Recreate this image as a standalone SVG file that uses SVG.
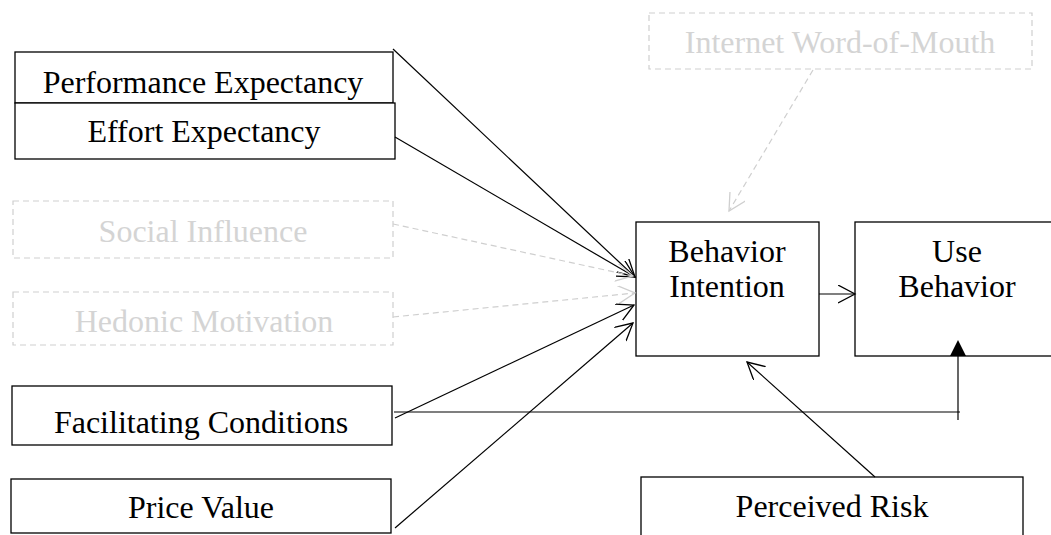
<svg xmlns="http://www.w3.org/2000/svg" width="1051" height="535" viewBox="0 0 1051 535">
  <style>
    .box { fill: #ffffff; stroke: #000000; stroke-width: 1.3; }
    .ghost { fill: #ffffff; stroke: #cfcfcf; stroke-width: 1.2; stroke-dasharray: 6 4; }
    .label { font-family: "Liberation Serif", "Times New Roman", serif; font-size: 32px; fill: #000000; text-anchor: middle; }
    .ghost-label { font-family: "Liberation Serif", "Times New Roman", serif; font-size: 32px; fill: #d4d4d4; text-anchor: middle; }
    .link { fill: none; stroke: #000000; stroke-width: 1.2; }
    .link-ghost { fill: none; stroke: #cfcfcf; stroke-width: 1.2; stroke-dasharray: 6 4; }
  </style>
  <defs>
    <marker id="open" markerUnits="userSpaceOnUse" markerWidth="22" markerHeight="22" refX="17" refY="9" orient="auto">
      <path d="M0,0 L17,9 L0,18" fill="none" stroke="#000000" stroke-width="1.3"/>
    </marker>
    <marker id="open-ghost" markerUnits="userSpaceOnUse" markerWidth="22" markerHeight="22" refX="17" refY="9" orient="auto">
      <path d="M0,0 L17,9 L0,18" fill="none" stroke="#cfcfcf" stroke-width="1.3"/>
    </marker>
  </defs>

  <rect width="1051" height="535" fill="#ffffff"/>

  <g id="performance-expectancy">
    <rect class="box" x="15" y="52" width="378" height="51"/>
    <text class="label" x="203" y="93">Performance Expectancy</text>
  </g>
  <g id="effort-expectancy">
    <rect class="box" x="15" y="103" width="380" height="56"/>
    <text class="label" x="204" y="142">Effort Expectancy</text>
  </g>
  <g id="social-influence">
    <rect class="ghost" x="13" y="201" width="380" height="57"/>
    <text class="ghost-label" x="203" y="242">Social Influence</text>
  </g>
  <g id="hedonic-motivation">
    <rect class="ghost" x="13" y="292" width="380" height="53"/>
    <text class="ghost-label" x="204" y="332">Hedonic Motivation</text>
  </g>
  <g id="facilitating-conditions">
    <rect class="box" x="12" y="386" width="380" height="59"/>
    <text class="label" x="201" y="433">Facilitating Conditions</text>
  </g>
  <g id="price-value">
    <rect class="box" x="11" y="479" width="380" height="54"/>
    <text class="label" x="201" y="518">Price Value</text>
  </g>
  <g id="internet-word-of-mouth">
    <rect class="ghost" x="649" y="13" width="383" height="56"/>
    <text class="ghost-label" x="840" y="53">Internet Word-of-Mouth</text>
  </g>
  <g id="behavior-intention">
    <rect class="box" x="636" y="222" width="183" height="134"/>
    <text class="label" x="727" y="262">Behavior</text>
    <text class="label" x="727" y="297">Intention</text>
  </g>
  <g id="use-behavior">
    <rect class="box" x="855" y="222" width="210" height="134"/>
    <text class="label" x="957" y="262">Use</text>
    <text class="label" x="957" y="297">Behavior</text>
  </g>
  <g id="perceived-risk">
    <rect class="box" x="641" y="477" width="382" height="70"/>
    <text class="label" x="832" y="517">Perceived Risk</text>
  </g>

  <!-- connectors, drawn over the boxes so arrowheads stay visible -->
  <g id="connectors">
    <line class="link" x1="393" y1="49" x2="635" y2="277" marker-end="url(#open)"/>
    <line class="link" x1="395" y1="137" x2="635" y2="277" marker-end="url(#open)"/>
    <line class="link-ghost" x1="393" y1="224" x2="633" y2="276" marker-end="url(#open-ghost)"/>
    <line class="link-ghost" x1="393" y1="317" x2="635" y2="293" marker-end="url(#open-ghost)"/>
    <line class="link" x1="395" y1="418" x2="634" y2="305" marker-end="url(#open)"/>
    <line class="link" x1="395" y1="528" x2="633" y2="323" marker-end="url(#open)"/>
    <line class="link" x1="819" y1="294" x2="855" y2="294" marker-end="url(#open)"/>
    <line class="link-ghost" x1="813" y1="70" x2="729" y2="211" marker-end="url(#open-ghost)"/>
    <line class="link" x1="875" y1="477" x2="747" y2="362" marker-end="url(#open)"/>
    <!-- facilitating conditions to use behavior -->
    <line class="link" x1="394" y1="412" x2="960" y2="412"/>
    <line class="link" x1="958" y1="420" x2="958" y2="356"/>
    <polygon points="958,340 950,356 966,356" fill="#000000"/>
  </g>
</svg>
